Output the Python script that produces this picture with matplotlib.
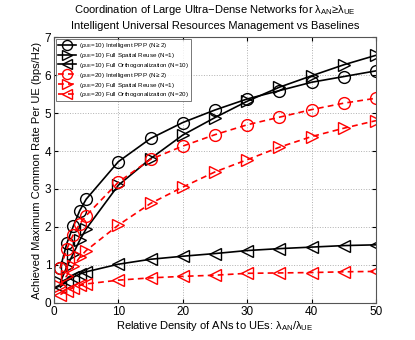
import matplotlib
matplotlib.use("Agg")
import matplotlib.pyplot as plt

plt.rcParams['font.family'] = ['Liberation Sans', 'DejaVu Sans']
plt.rcParams['mathtext.fontset'] = 'custom'
plt.rcParams['mathtext.rm'] = 'Liberation Sans'
plt.rcParams['mathtext.it'] = 'Liberation Sans'

x = [1, 2, 3, 4, 5, 10, 15, 20, 25, 30, 35, 40, 45, 50]

ppp_10 = [0.93, 1.57, 2.02, 2.43, 2.73, 3.72, 4.33, 4.75, 5.08, 5.37, 5.59, 5.81, 5.96, 6.11]
reuse_10 = [0.55, 0.95, 1.30, 1.65, 1.95, 3.10, 3.80, 4.42, 4.88, 5.31, 5.68, 5.98, 6.27, 6.52]
orth_10 = [0.42, 0.58, 0.68, 0.76, 0.82, 1.02, 1.15, 1.23, 1.30, 1.38, 1.43, 1.47, 1.51, 1.53]
ppp_20 = [0.92, 1.42, 1.80, 2.08, 2.30, 3.18, 3.78, 4.13, 4.43, 4.69, 4.89, 5.09, 5.26, 5.39]
reuse_20 = [0.45, 0.72, 0.97, 1.20, 1.38, 2.05, 2.62, 3.05, 3.45, 3.77, 4.10, 4.38, 4.60, 4.80]
orth_20 = [0.22, 0.32, 0.40, 0.46, 0.50, 0.60, 0.66, 0.70, 0.73, 0.78, 0.79, 0.80, 0.82, 0.83]

labels = [
    r'($\rho_{UE}$=10) Intelligent PPP (N$\geq$2)',
    r'($\rho_{UE}$=10) Full Spatial Reuse (N=1)',
    r'($\rho_{UE}$=10) Full Orthogonalization (N=10)',
    r'($\rho_{UE}$=20) Intelligent PPP (N$\geq$2)',
    r'($\rho_{UE}$=20) Full Spatial Reuse (N=1)',
    r'($\rho_{UE}$=20) Full Orthogonalization (N=20)',
]

fig = plt.figure(figsize=(4.15, 3.4), dpi=100)
ax = fig.add_axes([0.130, 0.109, 0.776, 0.782])

series = [ppp_10, reuse_10, orth_10, ppp_20, reuse_20, orth_20]
markers = ['o', '>', '<', 'o', '>', '<']
colors = ['black', 'black', 'black', 'red', 'red', 'red']
styles = ['-', '-', '-', (0, (3.5, 2.5)), (0, (3.5, 2.5)), (0, (3.5, 2.5))]
for ys, m, c, s, lab in zip(series, markers, colors, styles, labels):
    ax.plot(x, ys, linestyle=s, color=c, marker=m, markersize=8.5,
            markerfacecolor='none', markeredgecolor=c, markeredgewidth=1.0,
            linewidth=1.2, label=lab)

ax.set_xlim(0, 50)
ax.set_ylim(0, 7)
ax.set_xticks([0, 10, 20, 30, 40, 50])
ax.set_yticks(range(0, 8))
ax.grid(True, linestyle=':', color='#b0b0b0', linewidth=0.7)
ax.tick_params(direction='in', labelsize=8.5, length=3, top=True, right=True, pad=2)
for sp in ax.spines.values():
    sp.set_color('#555555')
    sp.set_linewidth(0.8)

ax.set_xlabel(r'Relative Density of ANs to UEs: $\lambda_{AN}/\lambda_{UE}$', fontsize=8, labelpad=1)
ax.set_ylabel('Achieved Maximum Common Rate Per UE (bps/Hz)', fontsize=8, labelpad=2)
ax.set_title('Coordination of Large Ultra\u2212Dense Networks for $\\lambda_{AN}$\u2265$\\lambda_{UE}$\n'
             'Intelligent Universal Resources Management vs Baselines', fontsize=8, pad=6, linespacing=1.5)

leg = ax.legend(loc='upper left', fontsize=4.5, frameon=True, fancybox=False,
                edgecolor='#555555', borderaxespad=0.3, handlelength=3.0,
                labelspacing=0.15, borderpad=0.3, handletextpad=0.4, markerscale=0.85)
leg.get_frame().set_linewidth(0.7)

fig.savefig('out.png', dpi=100)
